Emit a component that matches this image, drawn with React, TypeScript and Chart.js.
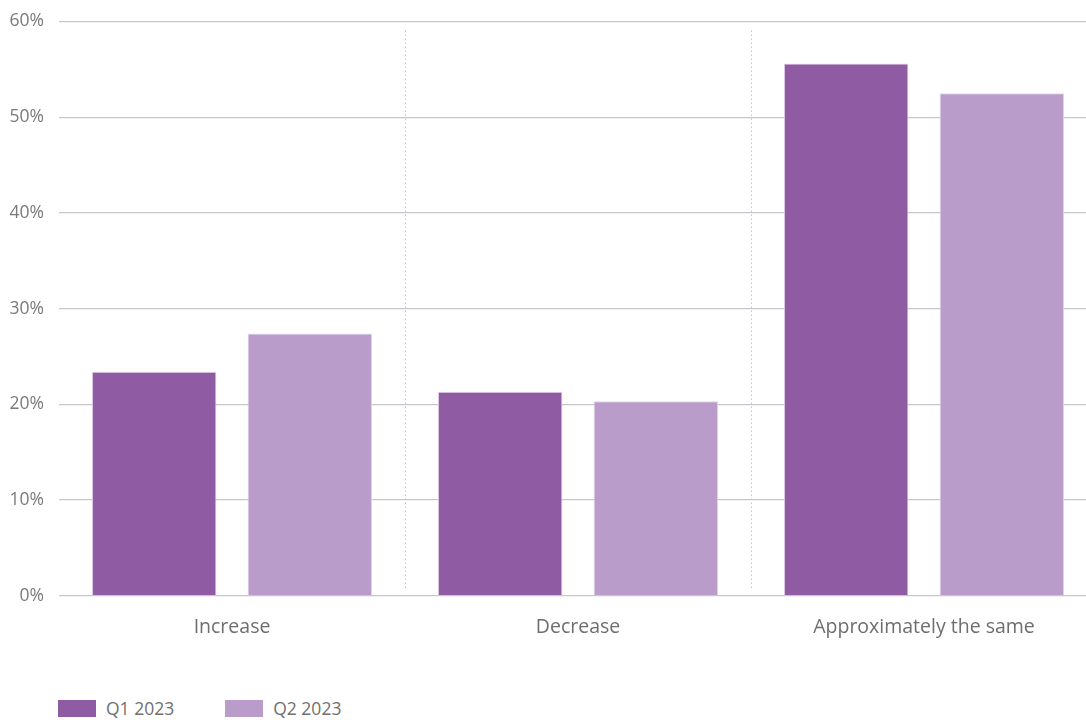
import React, { useEffect, useRef } from "react";
import { Chart, registerables } from "chart.js";

Chart.register(...registerables);

const categories = ["Increase", "Decrease", "Approximately the same"];
const seriesNames = ["Q1 2023", "Q2 2023"];
const q1Values = [23.4, 21.3, 55.6];
const q2Values = [27.4, 20.3, 52.5];
const seriesColors = ["#8f5ba2", "#b99cca"];
const yTicks = [0, 10, 20, 30, 40, 50, 60];

const FONT = "'Open Sans', sans-serif";

const separatorPlugin = {
  id: "separators",
  beforeDatasetsDraw(chart: any) {
    const x = chart.scales.x;
    const area = chart.chartArea;
    const ctx = chart.ctx;
    ctx.save();
    ctx.strokeStyle = "#c4c4c4";
    ctx.lineWidth = 1;
    ctx.setLineDash([1.5, 2.5]);
    for (let i = 0; i < categories.length - 1; i++) {
      const px = Math.round((x.getPixelForValue(i) + x.getPixelForValue(i + 1)) / 2) + 0.5;
      ctx.beginPath();
      ctx.moveTo(px, area.top + 9);
      ctx.lineTo(px, area.bottom - 7);
      ctx.stroke();
    }
    ctx.restore();
  },
};

export default function App() {
  const ref = useRef<HTMLCanvasElement>(null);
  useEffect(() => {
    if (!ref.current) return;
    const chart = new Chart(ref.current, {
      type: "bar",
      data: {
        labels: categories,
        datasets: [
          {
            label: seriesNames[0],
            data: q1Values,
            backgroundColor: seriesColors[0],
            borderColor: "#e6d4ec",
            borderWidth: 1,
            categoryPercentage: 0.9,
            barPercentage: 0.8,
          },
          {
            label: seriesNames[1],
            data: q2Values,
            backgroundColor: seriesColors[1],
            borderColor: "#e6d4ec",
            borderWidth: 1,
            categoryPercentage: 0.9,
            barPercentage: 0.8,
          },
        ],
      },
      options: {
        animation: false,
        responsive: false,
        maintainAspectRatio: false,
        layout: { padding: { top: 16, right: 3, bottom: 24, left: 0 } },
        plugins: {
          legend: { display: false },
          tooltip: { enabled: false },
        },
        scales: {
          x: {
            grid: { display: false, drawTicks: false },
            border: { display: false },
            ticks: {
              color: "#6e6e6e",
              font: { family: FONT, size: 19.5 },
              padding: 20,
            },
          },
          y: {
            min: 0,
            max: 60,
            afterBuildTicks(scale: any) {
              scale.ticks = yTicks.map((v) => ({ value: v }));
            },
            afterFit(scale: any) {
              scale.width = 59;
            },
            grid: { color: "#c6c6cc", lineWidth: 1.3, drawTicks: false },
            border: { display: false },
            ticks: {
              color: "#7a7a7a",
              font: { family: FONT, size: 17.5 },
              padding: 15,
              callback: (v: any) => v + "%",
            },
          },
        },
      },
      plugins: [separatorPlugin],
    });
    return () => chart.destroy();
  }, []);

  return (
    <div
      style={{
        position: "fixed",
        left: 0,
        top: 0,
        width: 1086,
        height: 720,
        overflow: "hidden",
        background: "#fff",
      }}
    >
      <canvas
        ref={ref}
        width={1100}
        height={687}
        style={{ display: "block", marginTop: -4 }}
      />
      <div
        style={{
          position: "absolute",
          left: 58,
          top: 700,
          display: "flex",
          alignItems: "center",
          fontFamily: FONT,
          fontSize: 17.5,
          color: "#707070",
          lineHeight: "17px",
        }}
      >
        {seriesNames.map((name, i) => (
          <div key={name} style={{ display: "flex", alignItems: "center", marginRight: 51 }}>
            <span
              style={{
                display: "inline-block",
                width: 38,
                height: 17,
                background: seriesColors[i],
                marginRight: 10,
              }}
            />
            <span>{name}</span>
          </div>
        ))}
      </div>
    </div>
  );
}
